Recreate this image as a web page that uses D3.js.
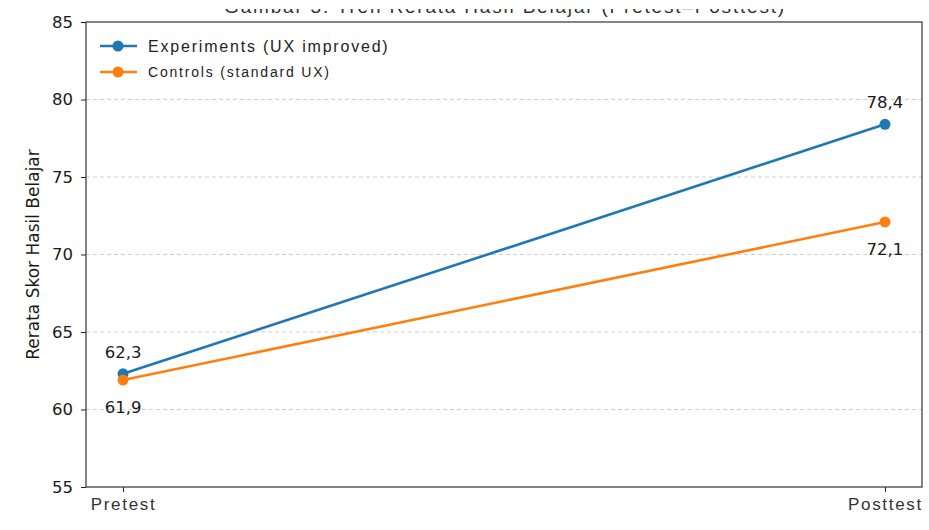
<!DOCTYPE html>
<html>
<head>
<meta charset="utf-8">
<script src="https://cdn.jsdelivr.net/npm/d3@7"></script>
<style>
  html, body { margin: 0; padding: 0; background: #fff; }
  svg { display: block; }
</style>
</head>
<body>
<svg id="chart" width="929" height="530"></svg>
<script>
// Phases of the study and mean learning-outcome scores per group
const phases = ["Pretest", "Posttest"];
const experimentScores = [62.3, 78.4];
const controlScores = [61.9, 72.1];
const seriesNames = ["Experiments (UX improved)", "Controls (standard UX)"];
const yTicks = [55, 60, 65, 70, 75, 80, 85];
const yGrid = [60, 65, 70, 75, 80];
const titleText = "Gambar 3. Tren Rerata Hasil Belajar (Pretest–Posttest)";

const W = 929, H = 530;
const m = { left: 86, right: 7, top: 22, bottom: 43 };
const svg = d3.select("#chart");

const x = d3.scalePoint().domain(phases).range([m.left, W - m.right]).padding(0.0486);
const y = d3.scaleLinear().domain([55, 85]).range([H - m.bottom, m.top]);

const blue = "#1f77b4", orange = "#ff7f0e";
const numFont = "'DejaVu Sans', sans-serif";
const txtFont = "'Liberation Sans', Arial, sans-serif";

// Title, clipped so only its lower edge shows above the frame
svg.append("clipPath").attr("id", "titleClip")
  .append("rect").attr("x", 0).attr("y", 9).attr("width", W).attr("height", 12);
svg.append("text")
  .attr("clip-path", "url(#titleClip)")
  .attr("x", 505).attr("y", 13)
  .attr("text-anchor", "middle")
  .attr("font-family", txtFont).attr("font-size", 19)
  .attr("letter-spacing", 1.8)
  .attr("fill", "#333")
  .text(titleText);

// Horizontal dashed grid
svg.append("g").selectAll("line").data(yGrid).join("line")
  .attr("x1", m.left).attr("x2", W - m.right)
  .attr("y1", d => y(d)).attr("y2", d => y(d))
  .attr("stroke", "#cfcfcf").attr("stroke-width", 1)
  .attr("stroke-dasharray", "4,3");

// Axes
const yAxis = svg.append("g")
  .attr("transform", `translate(${m.left},0)`)
  .call(d3.axisLeft(y).tickValues(yTicks).tickSize(5).tickPadding(8));
yAxis.select(".domain").remove();
yAxis.selectAll("line").attr("stroke", "#222");
yAxis.selectAll("text").attr("font-family", numFont).attr("font-size", 16.5).attr("fill", "#1a1a1a");

const xAxis = svg.append("g")
  .attr("transform", `translate(0,${H - m.bottom})`)
  .call(d3.axisBottom(x).tickSize(5).tickPadding(6));
xAxis.select(".domain").remove();
xAxis.selectAll("line").attr("stroke", "#222");
xAxis.selectAll("text").attr("font-family", txtFont).attr("font-size", 17)
  .attr("letter-spacing", 1.7).attr("fill", "#333");

// Frame
svg.append("rect")
  .attr("x", m.left).attr("y", m.top)
  .attr("width", W - m.right - m.left).attr("height", H - m.bottom - m.top)
  .attr("fill", "none").attr("stroke", "#333").attr("stroke-width", 1.2);

// Y axis label
svg.append("text")
  .attr("transform", `translate(39,${(m.top + H - m.bottom) / 2}) rotate(-90)`)
  .attr("text-anchor", "middle")
  .attr("font-family", numFont).attr("font-size", 17)
  .attr("fill", "#1a1a1a")
  .text("Rerata Skor Hasil Belajar");

// Lines and markers
const series = [
  { name: seriesNames[0], values: experimentScores, color: blue, labelDy: -16 },
  { name: seriesNames[1], values: controlScores, color: orange, labelDy: 33 }
];
const line = d3.line().x((d, i) => x(phases[i])).y(d => y(d));

series.forEach(s => {
  svg.append("path").datum(s.values)
    .attr("d", line).attr("fill", "none")
    .attr("stroke", s.color).attr("stroke-width", 2.6);
  svg.append("g").selectAll("circle").data(s.values).join("circle")
    .attr("cx", (d, i) => x(phases[i])).attr("cy", d => y(d))
    .attr("r", 5.5).attr("fill", s.color);
});

// Value labels (comma decimal)
series.forEach(s => {
  svg.append("g").selectAll("text").data(s.values).join("text")
    .attr("x", (d, i) => x(phases[i]))
    .attr("y", d => y(d) + s.labelDy)
    .attr("text-anchor", "middle")
    .attr("font-family", numFont).attr("font-size", 16.5)
    .attr("fill", "#1a1a1a")
    .text(d => d.toFixed(1).replace(".", ","));
});

// Legend
const legend = svg.append("g");
const legendRows = [
  { y: 46, size: 16 },
  { y: 72, size: 14 }
];
series.forEach((s, i) => {
  const r = legendRows[i];
  legend.append("line")
    .attr("x1", 100).attr("x2", 137).attr("y1", r.y).attr("y2", r.y)
    .attr("stroke", s.color).attr("stroke-width", 2.6);
  legend.append("circle").attr("cx", 118).attr("cy", r.y).attr("r", 5.5).attr("fill", s.color);
  legend.append("text")
    .attr("x", 148).attr("y", r.y).attr("dy", "0.35em")
    .attr("font-family", txtFont).attr("font-size", r.size)
    .attr("letter-spacing", 1.8)
    .attr("fill", "#222")
    .text(s.name);
});
</script>
</body>
</html>
